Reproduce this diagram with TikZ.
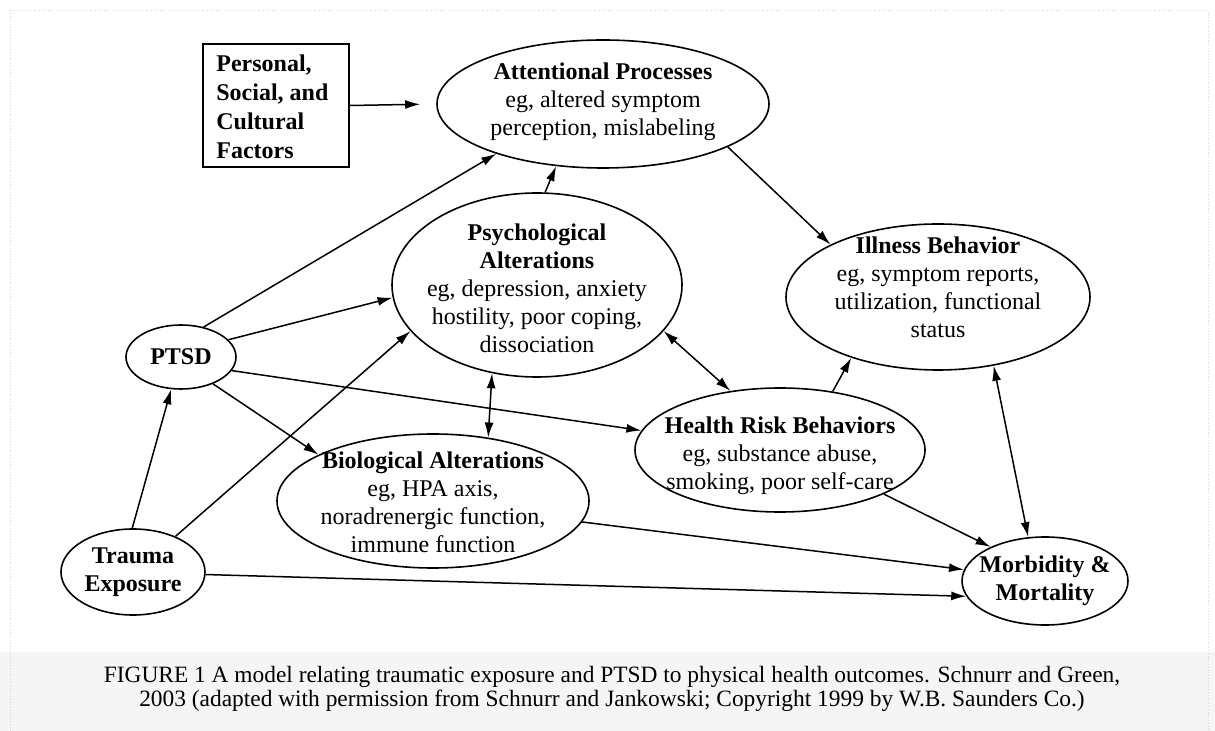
\documentclass[tikz,border=0pt]{standalone}
\usepackage{fontspec}
\setmainfont{Liberation Serif}
\usetikzlibrary{shapes.geometric,arrows.meta}
\tikzset{
  oval/.style={ellipse,draw,line width=0.8pt,inner sep=0pt},
  txt/.style={align=center,font=\fontsize{12}{14}\selectfont,inner sep=0pt},
  arr/.style={line width=0.75pt,-{Latex[length=7.5pt,width=4.5pt]}},
  darr/.style={line width=0.75pt,{Latex[length=7.5pt,width=4.5pt]}-{Latex[length=7.5pt,width=4.5pt]}}
}
\begin{document}
\begin{tikzpicture}[x=0.5pt,y=-0.5pt]
  \useasboundingbox (0,0) rectangle (1215,731);
  % scanned page look
  \fill[gray!8] (0,652) rectangle (1215,731);
  \draw[gray!35,densely dotted] (10,10) rectangle (1208,731);

  % boxes and ovals
  \node[draw,line width=0.8pt,minimum width=73pt,minimum height=61.5pt] (box) at (276,105.5) {};
  \node[oval,minimum width=166pt,minimum height=64pt] (att) at (603,104) {};
  \node[oval,minimum width=145pt,minimum height=92pt] (psy) at (537,285) {};
  \node[oval,minimum width=152pt,minimum height=73pt] (ill) at (938,297) {};
  \node[oval,minimum width=55pt,minimum height=32pt] (ptsd) at (181,357) {};
  \node[oval,minimum width=72pt,minimum height=43pt] (tra) at (133,572) {};
  \node[oval,minimum width=156pt,minimum height=67pt] (bio) at (433,501) {};
  \node[oval,minimum width=145pt,minimum height=62pt] (hrb) at (780,450) {};
  \node[oval,minimum width=83pt,minimum height=44pt] (mm) at (1045,581) {};

  % texts
  \node[txt,align=left,anchor=west,font=\fontsize{12}{14.5}\selectfont\bfseries] (boxtxt) at (216,107) {Personal,\\Social, and\\Cultural\\Factors};
  \node[txt] (atttxt) at (603,102) {\textbf{Attentional Processes}\\eg, altered symptom\\perception, mislabeling};
  \node[txt] (psytxt) at (537,288) {\textbf{Psychological}\\\textbf{Alterations}\\eg, depression, anxiety\\hostility, poor coping,\\dissociation};
  \node[txt] (illtxt) at (938,287) {\textbf{Illness Behavior}\\eg, symptom reports,\\utilization, functional\\status};
  \node[txt] (ptsdtxt) at (181,357) {\textbf{PTSD}};
  \node[txt] (tratxt) at (133,572) {\textbf{Trauma}\\\textbf{Exposure}};
  \node[txt] (biotxt) at (433,502) {\textbf{Biological Alterations}\\eg, HPA axis,\\noradrenergic function,\\immune function};
  \node[txt] (hrbtxt) at (780,456) {\textbf{Health Risk Behaviors}\\eg, substance abuse,\\smoking, poor self-care};
  \node[txt] (mmtxt) at (1045,581) {\textbf{Morbidity \&}\\\textbf{Mortality}};

  % arrows
  \draw[arr,shorten >=8pt] (box.east) -- (att.west);
  \draw[arr] (ptsd.53) -- (att.205);
  \draw[arr] (ptsd.20) -- (psy.185);
  \draw[arr] (ptsd.345) -- (hrb.172);
  \draw[arr] (ptsd.320) -- (bio.158);
  \draw[arr] (tra.91) -- (ptsd.253);
  \draw[arr] (tra.40) -- (psy.200);
  \draw[arr] (tra.358) -- (mm.191);
  \draw[arr] (bio.352) -- (mm.172);
  \draw[darr] (psy.243) -- (bio.49);
  \draw[arr] (psy.85) -- (att.233);
  \draw[arr] (att.341) -- (ill.154);
  \draw[darr] (psy.340) -- (hrb.130);
  \draw[arr] (hrb.48) -- (ill.215);
  \draw[arr] (hrb.337) -- (mm.148);
  \draw[darr] (ill.309) -- (mm.111);

  % caption
  \node[align=center,inner sep=0pt,font=\fontsize{11.7}{11.6}\selectfont] (cap) at (612,689)
    {FIGURE 1 A model relating traumatic exposure and PTSD to physical health outcomes. Schnurr and Green,\\
     2003 (adapted with permission from Schnurr and Jankowski; Copyright 1999 by W.B. Saunders Co.)};
\end{tikzpicture}
\end{document}
